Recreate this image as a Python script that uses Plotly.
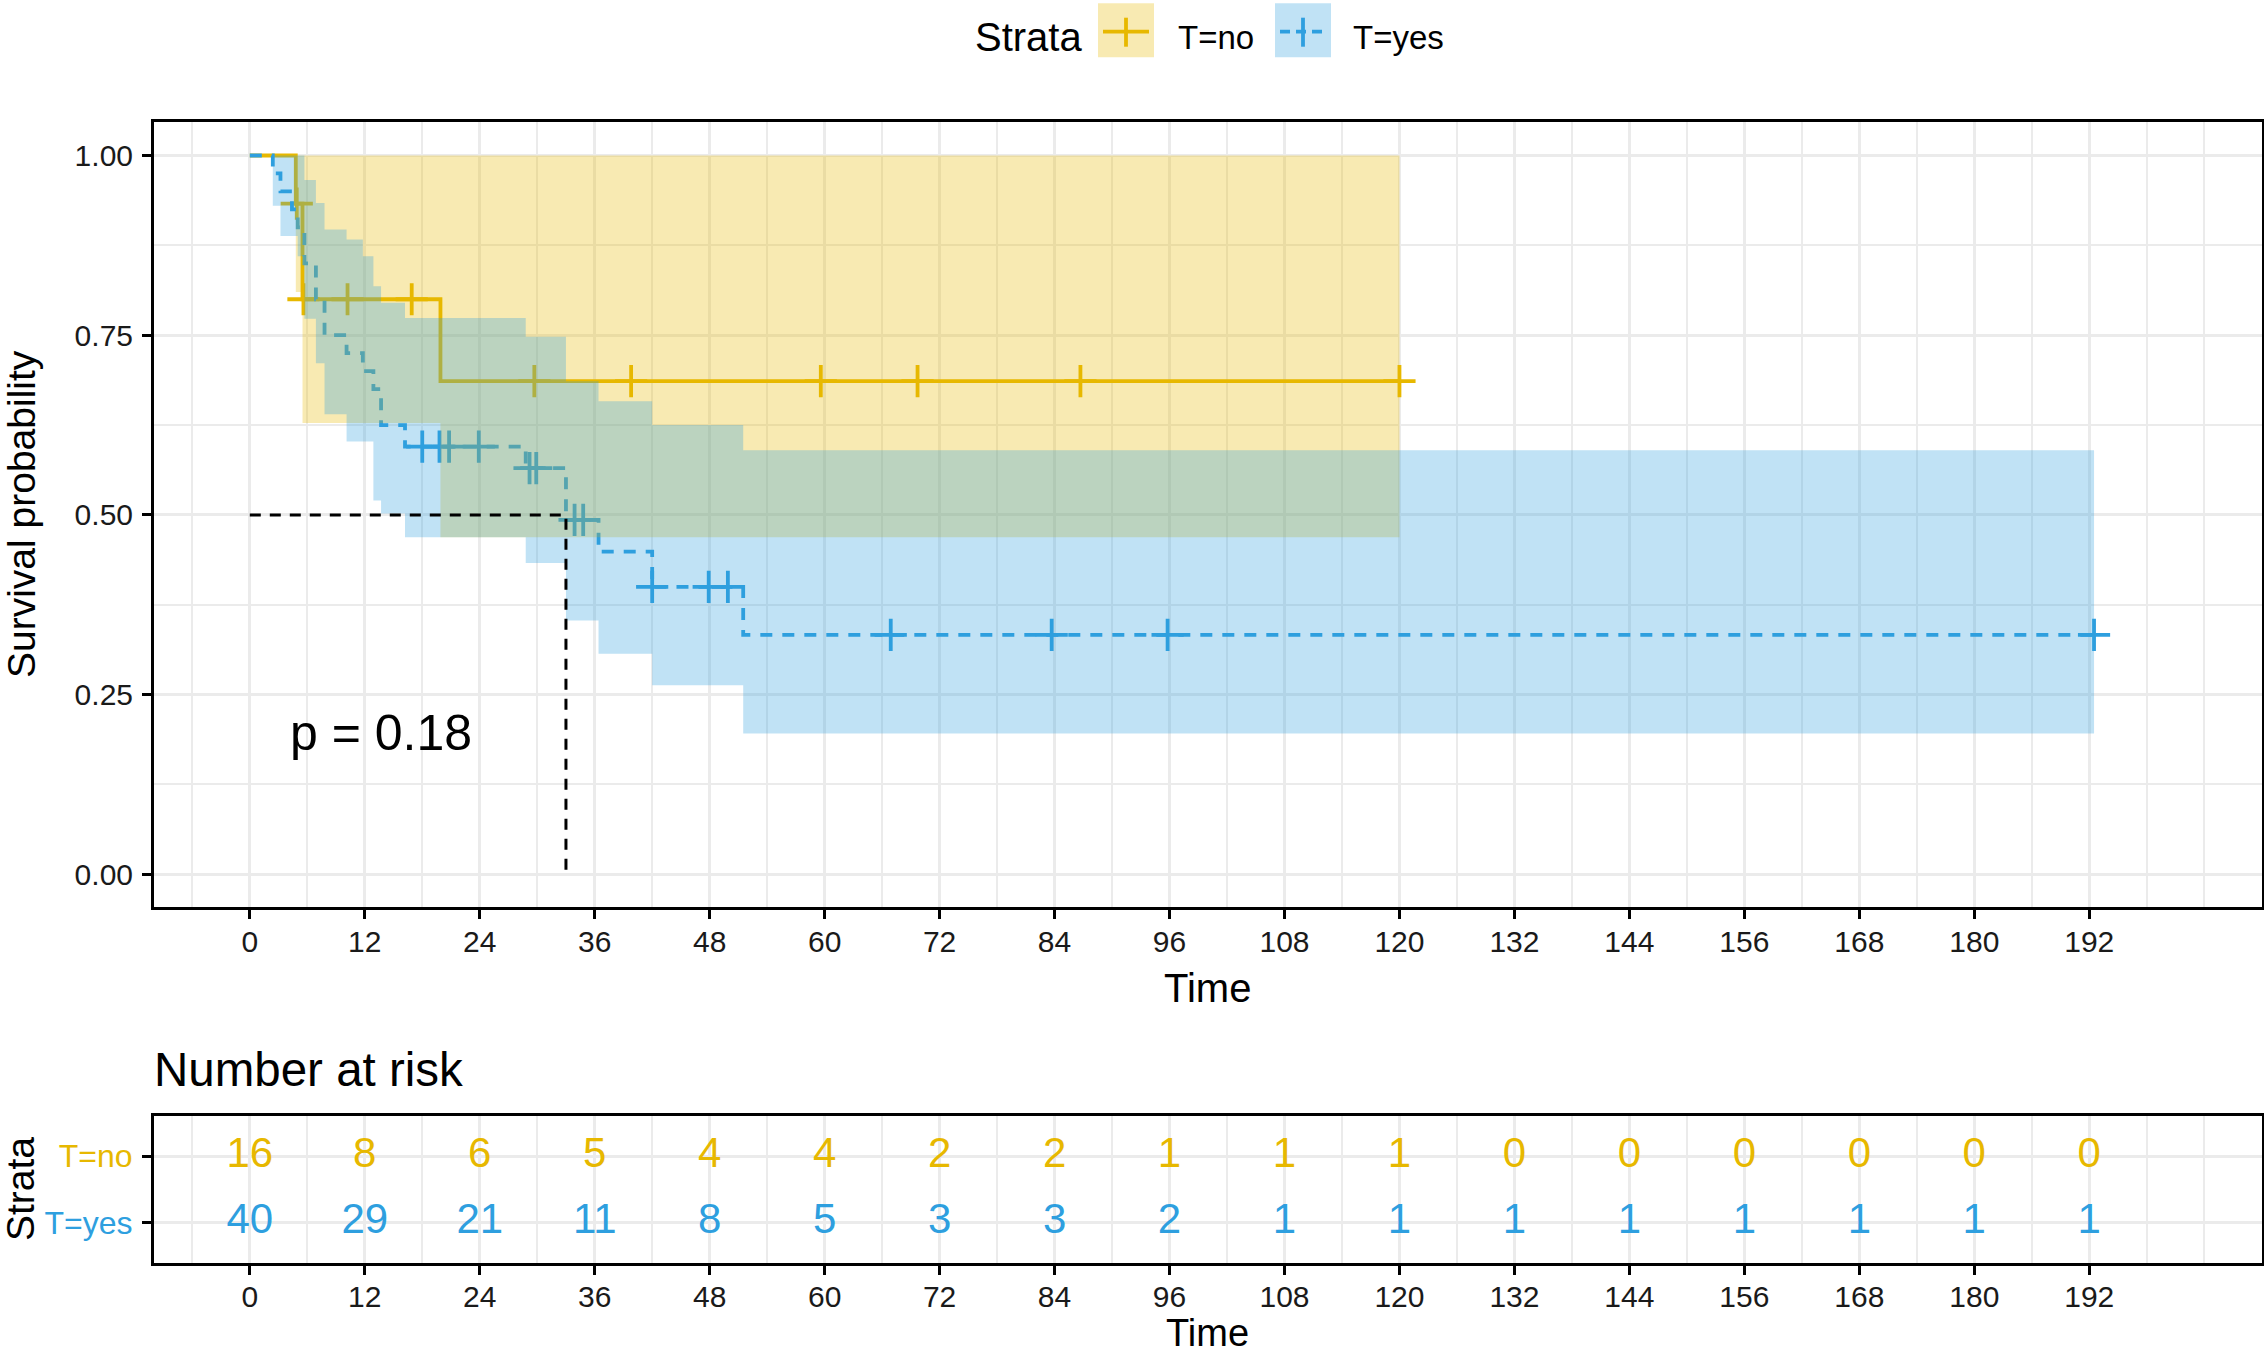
import plotly.graph_objects as go

GOLD = '#E7B800'
BLUE = '#2E9FDF'
FONT = 'Liberation Sans, Arial, sans-serif'

# --- Kaplan-Meier steps ---
# T=no
no_time = [0, 4.8, 5.5, 19.9]
no_surv = [1.0, 0.933, 0.800, 0.686]
no_upper = [1.0, 1.0, 1.0, 1.0]
no_lower = [1.0, 0.81, 0.628, 0.469]
no_end = 120
no_cens_time = [4.9, 5.6, 10.2, 16.9, 29.7, 39.8, 59.6, 69.7, 86.7, 120]
no_cens_surv = [0.933, 0.8, 0.8, 0.8, 0.686, 0.686, 0.686, 0.686, 0.686, 0.686]

# T=yes
yes_time = [0, 2.4, 3.2, 4.4, 5.0, 5.7, 6.9, 7.8, 10.1, 11.8, 12.9, 13.7, 16.2,
            28.8, 33.0, 36.4, 42.0, 51.5]
yes_surv = [1.0, 0.975, 0.95, 0.925, 0.90, 0.85, 0.80, 0.75, 0.725, 0.70, 0.675,
            0.625, 0.595, 0.565, 0.493, 0.449, 0.40, 0.333]
yes_upper = [1.0, 1.0, 1.0, 1.0, 1.0, 0.966, 0.934, 0.897, 0.883, 0.86, 0.818,
             0.795, 0.774, 0.748, 0.686, 0.658, 0.625, 0.59]
yes_lower = [1.0, 0.93, 0.888, 0.888, 0.86, 0.773, 0.711, 0.64, 0.602, 0.602, 0.52,
             0.502, 0.469, 0.433, 0.353, 0.307, 0.263, 0.196]
yes_end = 192.5
yes_cens_time = [18.0, 19.8, 20.8, 23.9, 29.2, 29.9, 33.9, 34.8, 42.0, 47.9, 49.9,
                 66.9, 83.7, 95.8, 192.5]
yes_cens_surv = [0.595, 0.595, 0.595, 0.595, 0.565, 0.565, 0.493, 0.493, 0.40, 0.40,
                 0.40, 0.333, 0.333, 0.333, 0.333]

median_time = 33.0
median_surv = 0.5
pval_text = 'p = 0.18'

# --- number at risk table ---
risk_times = [0, 12, 24, 36, 48, 60, 72, 84, 96, 108, 120, 132, 144, 156, 168, 180, 192]
risk_no = [16, 8, 6, 5, 4, 4, 2, 2, 1, 1, 1, 0, 0, 0, 0, 0, 0]
risk_yes = [40, 29, 21, 11, 8, 5, 3, 3, 2, 1, 1, 1, 1, 1, 1, 1, 1]
y_ticks = [0, 0.25, 0.5, 0.75, 1.0]


def step_path(times, vals, end):
    xs, ys = [], []
    for i, t in enumerate(times):
        t_next = times[i + 1] if i + 1 < len(times) else end
        xs += [t, t_next]
        ys += [vals[i], vals[i]]
    return xs, ys


def band(times, upper, lower, end, color):
    xu, yu = step_path(times, upper, end)
    xl, yl = step_path(times, lower, end)
    return go.Scatter(x=xu + xl[::-1], y=yu + yl[::-1], fill='toself',
                      fillcolor=color, line=dict(width=0), mode='lines',
                      hoverinfo='skip', showlegend=False)


fig = go.Figure()

# curves + censor marks
fig.add_trace(go.Scatter(x=no_time + [no_end], y=no_surv + [no_surv[-1]], mode='lines',
                         line=dict(color=GOLD, width=3.8, shape='hv'), showlegend=False))
fig.add_trace(go.Scatter(x=no_cens_time, y=no_cens_surv, mode='markers', showlegend=False,
                         marker=dict(symbol='cross-thin', size=23,
                                     line=dict(color=GOLD, width=3.8))))
fig.add_trace(go.Scatter(x=yes_time + [yes_end], y=yes_surv + [yes_surv[-1]], mode='lines',
                         line=dict(color=BLUE, width=3.8, shape='hv', dash='12px,10px'),
                         showlegend=False))
fig.add_trace(go.Scatter(x=yes_cens_time, y=yes_cens_surv, mode='markers', showlegend=False,
                         marker=dict(symbol='cross-thin', size=23,
                                     line=dict(color=BLUE, width=3.8))))

# confidence bands on top (alpha)
fig.add_trace(band(no_time, no_upper, no_lower, no_end, 'rgba(231,184,0,0.3)'))
fig.add_trace(band(yes_time, yes_upper, yes_lower, yes_end, 'rgba(46,159,223,0.3)'))

# median survival
fig.add_trace(go.Scatter(x=[0, median_time, median_time], y=[median_surv, median_surv, 0],
                         mode='lines', line=dict(color='black', width=3, dash='11px,9px'),
                         showlegend=False))

# risk table
fig.add_trace(go.Scatter(x=risk_times, y=[2] * len(risk_times), text=[str(v) for v in risk_no],
                         mode='text', textfont=dict(color=GOLD, size=42, family=FONT),
                         xaxis='x2', yaxis='y2', showlegend=False, cliponaxis=False))
fig.add_trace(go.Scatter(x=risk_times, y=[1] * len(risk_times), text=[str(v) for v in risk_yes],
                         mode='text', textfont=dict(color=BLUE, size=42, family=FONT),
                         xaxis='x2', yaxis='y2', showlegend=False, cliponaxis=False))

W, H = 2264, 1356
xdom = [154 / W, 2261.7 / W]

axis_common = dict(showline=True, mirror=True, linecolor='black', linewidth=3,
                   ticks='outside', ticklen=9, tickwidth=3, tickcolor='black',
                   gridcolor='#EBEBEB', gridwidth=2.5, zeroline=False,
                   tickfont=dict(size=30, color='#1a1a1a', family=FONT))
xminor = dict(dtick=6, tick0=0, showgrid=True, gridcolor='#EBEBEB', gridwidth=1.5)

fig.update_layout(
    width=W, height=H,
    margin=dict(l=0, r=0, t=0, b=0),
    paper_bgcolor='white', plot_bgcolor='white',
    font=dict(family=FONT, color='black'),
    showlegend=False,
    xaxis=dict(domain=xdom, anchor='y', range=[-10, 210], tickvals=risk_times,
               minor=xminor, ticklabelstandoff=-3, **axis_common),
    yaxis=dict(domain=[1 - 906.7 / H, 1 - 121.7 / H], anchor='x', range=[-0.045, 1.047],
               tickvals=y_ticks, tickformat='.2f',
               minor=dict(dtick=0.125, tick0=0, showgrid=True, gridcolor='#EBEBEB', gridwidth=1.5),
               ticklabelstandoff=3, **axis_common),
    xaxis2=dict(domain=xdom, anchor='y2', range=[-10, 210], tickvals=risk_times,
                minor=xminor, ticklabelstandoff=-4, **axis_common),
    yaxis2=dict(domain=[1 - 1262.7 / H, 1 - 1116 / H], anchor='x2', range=[0.4, 2.6],
                tickvals=[1, 2],
                ticktext=[f'<span style="color:{BLUE}">T=yes</span>',
                          f'<span style="color:{GOLD}">T=no</span>'],
                ticklabelstandoff=3, **axis_common),
)
fig.layout.yaxis2.tickfont.size = 32

# p-value
fig.add_annotation(x=4, y=0.197, xref='x', yref='y', text=pval_text, showarrow=False,
                   xanchor='left', yanchor='middle', font=dict(size=50, color='black'))

# axis titles and table title
titles = [
    dict(text='Survival probability', x=21 / W, y=1 - 514 / H, textangle=-90, size=39),
    dict(text='Time', x=1207.5 / W, y=1 - 988 / H, textangle=0, size=40),
    dict(text='Strata', x=20 / W, y=1 - 1189 / H, textangle=-90, size=39),
    dict(text='Time', x=1207.5 / W, y=1 - 1333 / H, textangle=0, size=38),
]
for t in titles:
    fig.add_annotation(text=t['text'], x=t['x'], y=t['y'], xref='paper', yref='paper',
                       showarrow=False, textangle=t['textangle'], xanchor='center',
                       yanchor='middle', font=dict(size=t['size'], color='black'))
fig.add_annotation(text='Number at risk', x=152 / W, y=1 - 1069 / H, xref='paper', yref='paper',
                   showarrow=False, xanchor='left', yanchor='middle',
                   font=dict(size=47.5, color='black'))

# legend drawn by hand (key boxes with line and cross)
ly = 1 - 31.7 / H
fig.add_annotation(text='Strata', x=973 / W, y=1 - 37 / H, xref='paper', yref='paper',
                   showarrow=False, xanchor='left', yanchor='middle',
                   font=dict(size=40, color='black'))
keys = [(1098, 'rgba(231,184,0,0.3)', GOLD, 'solid', 'T=no', 1176),
        (1275, 'rgba(46,159,223,0.3)', BLUE, '10px,6px', 'T=yes', 1351)]
for x0, fill, col, dash, label, lx in keys:
    fig.add_shape(type='rect', xref='paper', yref='paper', x0=x0 / W, x1=(x0 + 56) / W,
                  y0=1 - 57.3 / H, y1=1 - 3.3 / H, fillcolor=fill, line=dict(width=0))
    fig.add_shape(type='line', xref='paper', yref='paper', x0=(x0 + 5) / W, x1=(x0 + 51) / W,
                  y0=ly, y1=ly, line=dict(color=col, width=3.8, dash=dash))
    fig.add_shape(type='line', xref='paper', yref='paper', x0=(x0 + 28) / W, x1=(x0 + 28) / W,
                  y0=1 - 46.7 / H, y1=1 - 17.7 / H, line=dict(color=col, width=3.8))
    fig.add_annotation(text=label, x=lx / W, y=1 - 37 / H, xref='paper', yref='paper',
                       showarrow=False, xanchor='left', yanchor='middle',
                       font=dict(size=33, color='black'))

# drop the browser's default page margin so the figure fills the window
fig.write_html("out.html", config={'displayModeBar': False},
               post_script="document.body.style.margin='0';")
